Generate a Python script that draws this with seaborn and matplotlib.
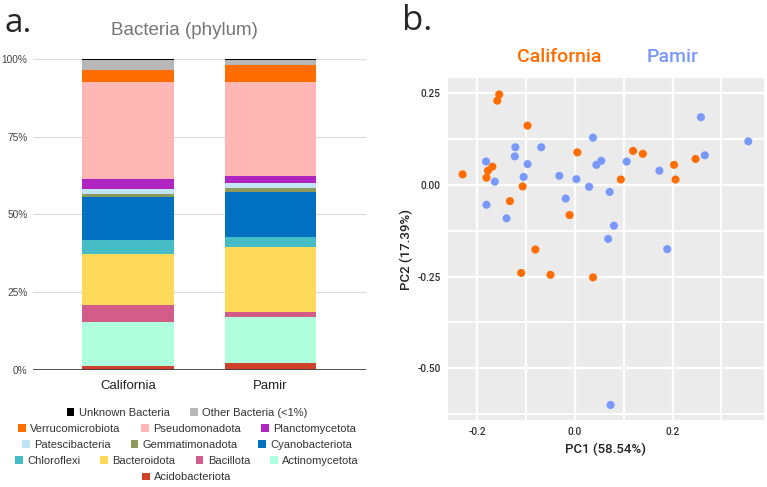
import numpy as np
import pandas as pd
import seaborn as sns
import matplotlib.pyplot as plt
from matplotlib.patches import Patch
from matplotlib.ticker import PercentFormatter, MultipleLocator

# stacked bar data, percent of reads per phylum (top of stack first)
sites = ["California", "Pamir"]
phyla = ["Unknown Bacteria", "Other Bacteria (<1%)", "Verrucomicrobiota", "Pseudomonadota",
         "Planctomycetota", "Patescibacteria", "Gemmatimonadota", "Cyanobacteriota",
         "Chloroflexi", "Bacteroidota", "Bacillota", "Actinomycetota", "Acidobacteriota"]
california_pct = [0.4, 3.1, 4.0, 31.1, 3.1, 1.8, 0.8, 13.9, 4.5, 16.4, 5.4, 14.1, 1.4]
pamir_pct = [0.4, 1.5, 5.4, 30.2, 2.3, 1.6, 1.3, 14.4, 3.2, 21.1, 1.7, 14.8, 2.1]
phylum_colors = ["#000000", "#B7B7B7", "#FF6D01", "#FFB6B5", "#B024C0", "#C2E5F6", "#8D9A5C",
                 "#0070C0", "#46BDC6", "#FFD95A", "#D35C88", "#B0FFDF", "#D0412A"]

# PCA scores
cal_pc1 = [-0.230, -0.155, -0.159, -0.097, -0.169, -0.178, -0.181, -0.107, -0.133, -0.011, 0.005,
           0.094, 0.119, 0.139, 0.203, 0.206, 0.247, -0.081, -0.110, -0.050, 0.037]
cal_pc2 = [0.029, 0.247, 0.230, 0.162, 0.050, 0.039, 0.020, -0.004, -0.044, -0.082, 0.089,
           0.015, 0.093, 0.085, 0.055, 0.015, 0.071, -0.176, -0.240, -0.245, -0.252]
pam_pc1 = [-0.182, -0.164, -0.181, -0.140, -0.122, -0.123, -0.097, -0.105, -0.069, -0.032, -0.019,
           0.003, 0.029, 0.037, 0.044, 0.054, 0.071, 0.080, 0.068, 0.106, 0.173, 0.189, 0.258,
           0.266, 0.355, 0.073]
pam_pc2 = [0.064, 0.009, -0.054, -0.091, 0.103, 0.078, 0.057, 0.022, 0.103, 0.025, -0.037,
           0.016, -0.005, 0.129, 0.055, 0.066, -0.019, -0.111, -0.147, 0.064, 0.039, -0.175, 0.185,
           0.081, 0.119, -0.600]
site_colors = {"California": "#FF6D00", "Pamir": "#7899FA"}

bars = pd.DataFrame({
    "site": np.repeat(sites, len(phyla)),
    "phylum": phyla * 2,
    "frac": np.array(california_pct + pamir_pct) / 100,
})
pca = pd.DataFrame({
    "pc1": cal_pc1 + pam_pc1,
    "pc2": cal_pc2 + pam_pc2,
    "site": ["California"] * len(cal_pc1) + ["Pamir"] * len(pam_pc1),
})

sns.set_style("white")
plt.rcParams["font.family"] = ["Liberation Sans", "DejaVu Sans"]

fig = plt.figure(figsize=(7.67, 4.87), dpi=100)

# --- a. stacked bars ---
ax1 = fig.add_axes([0.043, 0.2402, 0.434, 0.6387])
sns.histplot(data=bars, x="site", weights="frac", hue="phylum", hue_order=phyla,
             palette=phylum_colors, multiple="stack", discrete=True, shrink=0.643,
             alpha=1, linewidth=0, legend=False, ax=ax1)
ax1.set_ylim(0, 1)
ax1.set_xlim(-0.669, 1.669)
ax1.yaxis.set_major_locator(MultipleLocator(0.25))
ax1.yaxis.set_major_formatter(PercentFormatter(1.0, decimals=0))
ax1.grid(axis="y", color="#D9D9D9", linewidth=0.8)
ax1.set_axisbelow(True)
ax1.axhline(0, color="#444444", linewidth=1.3, zorder=5)
for s in ax1.spines.values():
    s.set_visible(False)
ax1.set_xlabel("")
ax1.set_ylabel("")
ax1.tick_params(axis="y", length=0, pad=4, labelsize=7.3, labelcolor="#444444")
ax1.tick_params(axis="x", length=0, pad=7, labelsize=9.5, labelcolor="#222222")
fig.text(0.2406, 0.938, "Bacteria (phylum)", ha="center", va="center", fontsize=13.5,
         color="#757575")

# legend, one centered row at a time like the original
rows = [phyla[0:2], phyla[2:5], phyla[5:8], phyla[8:12], phyla[12:13]]
row_y = [412.7, 429.0, 444.7, 460.7, 477.3]
color_of = dict(zip(phyla, phylum_colors))
for names, y in zip(rows, row_y):
    handles = [Patch(facecolor=color_of[n], edgecolor="none", label=n) for n in names]
    fig.legend(handles=handles, loc="center", bbox_to_anchor=(187 / 767, 1 - y / 487),
               ncol=len(names), frameon=False, fontsize=8, handlelength=0.7, handleheight=0.7,
               handletextpad=0.4, columnspacing=1.8, borderpad=0, labelcolor="#333333")

fig.text(5 / 767, 1 - 32 / 487, "a.", fontsize=24, family="Open Sans", va="baseline")

# --- b. PCA scatter, ggplot-like grey panel ---
with sns.axes_style("darkgrid", {"axes.facecolor": "#EBEBEB", "grid.color": "white"}):
    ax2 = fig.add_axes([0.584, 0.1376, 0.412, 0.7016])
sns.scatterplot(data=pca, x="pc1", y="pc2", hue="site", palette=site_colors, s=34,
                linewidth=0, legend=False, ax=ax2, zorder=3)
ax2.set_xlim(-0.26, 0.387)
ax2.set_ylim(-0.641, 0.291)
ax2.xaxis.set_major_locator(MultipleLocator(0.2))
ax2.xaxis.set_minor_locator(MultipleLocator(0.1))
ax2.yaxis.set_major_locator(MultipleLocator(0.25))
ax2.yaxis.set_minor_locator(MultipleLocator(0.125))
ax2.xaxis.set_major_formatter(lambda v, p: f"{v:.1f}")
ax2.yaxis.set_major_formatter(lambda v, p: f"{v:.2f}")
ax2.grid(True, which="major", color="white", linewidth=1.6)
ax2.grid(True, which="minor", color="white", linewidth=1.4)
for s in ax2.spines.values():
    s.set_visible(False)
ax2.tick_params(which="both", length=0, pad=5, labelsize=7.3, labelcolor="#333333")
for lab in ax2.get_xticklabels() + ax2.get_yticklabels():
    lab.set_family("Roboto")
    lab.set_fontweight("medium")
ax2.set_xlabel("PC1 (58.54%)", fontsize=9.5, family="Roboto", fontweight="medium", color="#222222")
ax2.set_ylabel("PC2 (17.39%)", fontsize=9.5, family="Roboto", fontweight="medium", color="#222222")
ax2.xaxis.set_label_coords(0.5, -0.067)
ax2.yaxis.set_label_coords(-0.111, 0.5)

fig.text(559 / 767, 1 - 56.7 / 487, "California", ha="center", va="center", fontsize=14,
         family="Roboto", fontweight="medium", color=site_colors["California"])
fig.text(673 / 767, 1 - 56.7 / 487, "Pamir", ha="center", va="center", fontsize=14,
         family="Roboto", fontweight="medium", color=site_colors["Pamir"])
fig.text(402 / 767, 1 - 30 / 487, "b.", fontsize=25, family="Open Sans", va="baseline")

fig.savefig("out.png", dpi=100)
